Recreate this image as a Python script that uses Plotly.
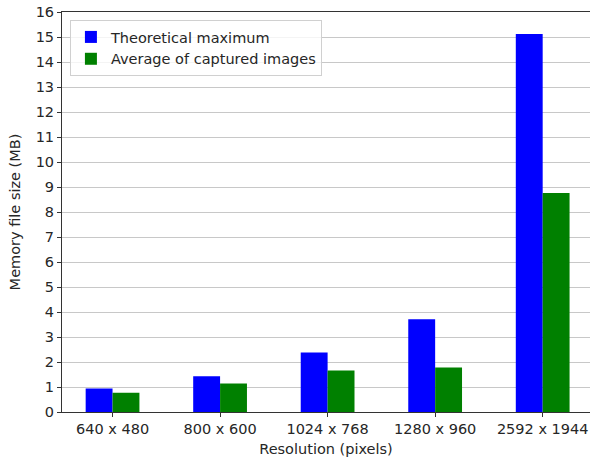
import plotly.graph_objects as go

categories = ["640 x 480", "800 x 600", "1024 x 768", "1280 x 960", "2592 x 1944"]
theoretical = [0.94, 1.43, 2.38, 3.71, 15.12]
average = [0.77, 1.14, 1.66, 1.78, 8.76]
y_ticks = list(range(0, 17))

xs = list(range(len(categories)))
FONT = "DejaVu Sans"
FS = 14.5

fig = go.Figure()
fig.add_trace(go.Bar(x=xs, y=theoretical, name="Theoretical maximum",
                     marker=dict(color="#0000ff", line=dict(width=0)),
                     width=0.25, offset=-0.25))
fig.add_trace(go.Bar(x=xs, y=average, name="Average of captured images",
                     marker=dict(color="#008000", line=dict(width=0)),
                     width=0.25, offset=0))

fig.update_layout(
    width=590, height=459,
    margin=dict(l=62, r=0, t=12, b=47, autoexpand=False),
    plot_bgcolor="white", paper_bgcolor="white",
    font=dict(family=FONT, size=FS, color="#262626"),
    barmode="overlay",
    showlegend=True,
    legend=dict(x=0.015, y=0.98, xanchor="left", yanchor="top",
                bgcolor="rgba(255,255,255,0.8)", bordercolor="#d0d0d0",
                borderwidth=1, font=dict(size=FS), tracegroupgap=0),
    xaxis=dict(range=[-0.47, 4.44], tickmode="array", tickvals=xs,
               ticktext=categories, showgrid=False, zeroline=False,
               automargin=False,
               showline=True, linecolor="#333333", linewidth=1, mirror=True,
               ticks="outside", ticklen=4, tickcolor="#333333",
               title=dict(text="Resolution (pixels)", standoff=7,
                          font=dict(size=FS))),
    yaxis=dict(range=[0, 16], tickmode="array", tickvals=y_ticks,
               showgrid=True, gridcolor="#c8c8c8", gridwidth=1,
               automargin=False,
               zeroline=False, showline=True, linecolor="#333333",
               linewidth=1, ticks="outside", ticklen=4, tickcolor="#333333",
               title=dict(text="Memory file size (MB)", standoff=11,
                          font=dict(size=FS))),
)

# remove the browser's default page margin so the figure fills the window
fig.write_html("out.html",
               config={"displayModeBar": False},
               post_script="document.body.style.margin='0';"
                           "document.body.style.overflow='hidden';")
